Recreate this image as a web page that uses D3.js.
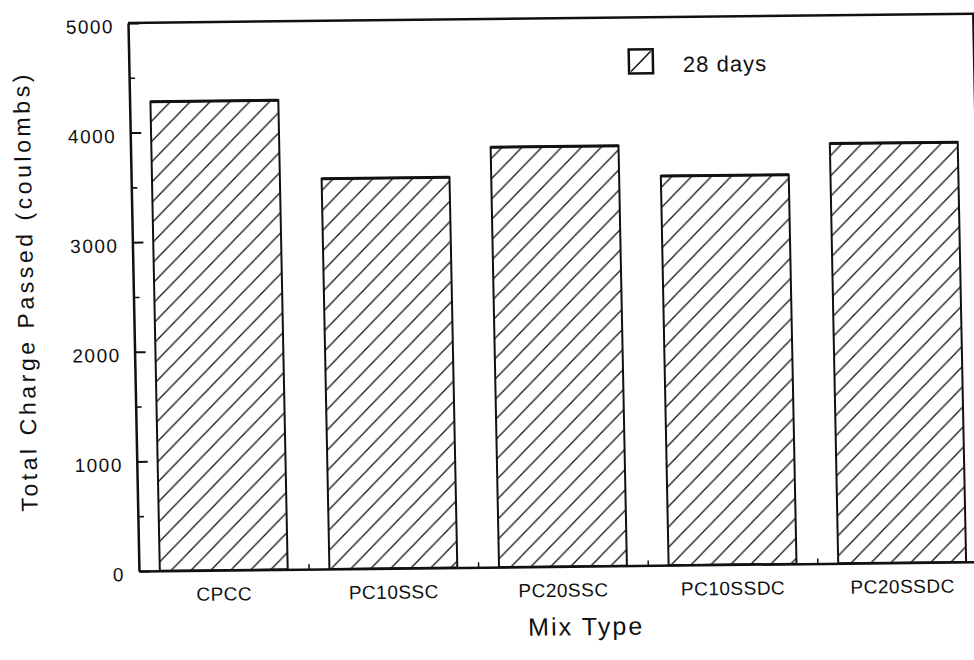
<!DOCTYPE html>
<html>
<head>
<meta charset="utf-8">
<script src="https://cdn.jsdelivr.net/npm/d3@7"></script>
<style>
  body { margin: 0; background: #fff; }
  text { font-family: "Liberation Sans", Arial, Helvetica, sans-serif; fill: #111; }
</style>
</head>
<body>
<svg id="chart" width="974" height="660"></svg>
<script>
// Total charge passed at 28 days, per mix type
const categories = ["CPCC", "PC10SSC", "PC20SSC", "PC10SSDC", "PC20SSDC"];
const charge28 = [4280, 3560, 3830, 3550, 3830];
const yTicks = [0, 1000, 2000, 3000, 4000, 5000];
const yMinorTicks = [500, 1500, 2500, 3500, 4500];
const seriesName = "28 days";
const yTitle = "Total Charge Passed (coulombs)";
const xTitle = "Mix Type";

const W = 845, H = 548;
const ink = "#111";

const svg = d3.select("#chart");

// hatch fill used by the bars and the legend swatch
const defs = svg.append("defs");
const pat = defs.append("pattern")
  .attr("id", "hatch")
  .attr("patternUnits", "userSpaceOnUse")
  .attr("width", 20).attr("height", 20);
pat.append("path")
  .attr("d", "M-5,5 L5,-5 M0,20 L20,0 M15,25 L25,15")
  .attr("stroke", ink).attr("stroke-width", 1.3);

// plot frame (slightly skewed, as on the printed sheet)
const g = svg.append("g")
  .attr("transform", "matrix(1,-0.011,0.02,1,128,23)");

const x = d3.scaleBand()
  .domain(categories)
  .range([0, 848])
  .paddingInner(0.246)
  .paddingOuter(0.123);

const xEdge = d3.scaleLinear().domain([0, categories.length]).range([0, 848]);

const y = d3.scaleLinear().domain([0, 5000]).range([H, 0]);

// bars
g.selectAll("rect.bar")
  .data(categories)
  .join("rect")
  .attr("class", "bar")
  .attr("x", d => x(d))
  .attr("y", (d, i) => y(charge28[i]))
  .attr("width", x.bandwidth())
  .attr("height", (d, i) => y(0) - y(charge28[i]))
  .attr("fill", "url(#hatch)")
  .attr("stroke", ink)
  .attr("stroke-width", 2);

// heavier top edge on each bar
g.selectAll("line.bartop")
  .data(categories)
  .join("line")
  .attr("class", "bartop")
  .attr("x1", d => x(d))
  .attr("x2", d => x(d) + x.bandwidth())
  .attr("y1", (d, i) => y(charge28[i]))
  .attr("y2", (d, i) => y(charge28[i]))
  .attr("stroke", ink)
  .attr("stroke-width", 3);

// frame: top and right
g.append("line").attr("x1", 0).attr("x2", W + 5).attr("y1", 0).attr("y2", 0)
  .attr("stroke", ink).attr("stroke-width", 2.5);
g.append("line").attr("x1", W).attr("x2", W).attr("y1", 0).attr("y2", H)
  .attr("stroke", ink).attr("stroke-width", 2);

// y axis with inward ticks
const yAxis = g.append("g")
  .call(d3.axisLeft(y).tickValues(yTicks).tickFormat(d3.format("d"))
    .tickSize(-11).tickSizeOuter(0).tickPadding(14));
yAxis.select(".domain").attr("stroke", ink).attr("stroke-width", 2.5);
yAxis.selectAll(".tick line").attr("stroke", ink).attr("stroke-width", 2);
yAxis.selectAll(".tick text")
  .attr("dy", "0.5em")
  .attr("fill", ink)
  .style("font-size", "19px")
  .style("letter-spacing", "1.5px");

const yMinor = g.append("g")
  .call(d3.axisLeft(y).tickValues(yMinorTicks).tickSize(-6).tickFormat(""));
yMinor.select(".domain").remove();
yMinor.selectAll(".tick line").attr("stroke", ink).attr("stroke-width", 1.6);

// x axis: labels under each bar, small ticks between bars
const xAxis = g.append("g")
  .attr("transform", `translate(0,${H})`)
  .call(d3.axisBottom(x).tickSize(0).tickSizeOuter(0).tickPadding(17));
xAxis.select(".domain").attr("stroke", ink).attr("stroke-width", 2.5);
xAxis.selectAll(".tick text")
  .attr("fill", ink)
  .style("font-size", "19px")
  .style("letter-spacing", "0.5px");

const xEdges = g.append("g")
  .attr("transform", `translate(0,${H})`)
  .call(d3.axisBottom(xEdge).tickValues([1, 2, 3, 4]).tickSize(-5).tickFormat(""));
xEdges.select(".domain").remove();
xEdges.selectAll(".tick line").attr("stroke", ink).attr("stroke-width", 1.5);

// axis titles
g.append("text")
  .attr("transform", `translate(-100,269) rotate(-90)`)
  .attr("text-anchor", "middle")
  .attr("textLength", 437)
  .attr("lengthAdjust", "spacing")
  .style("font-size", "23px")
  .text(yTitle);

g.append("text")
  .attr("x", 445).attr("y", H + 69)
  .attr("text-anchor", "middle")
  .attr("textLength", 114)
  .attr("lengthAdjust", "spacing")
  .style("font-size", "25px")
  .text(xTitle);

// legend
const leg = g.append("g").attr("transform", "translate(500,32)");
leg.append("rect")
  .attr("width", 24).attr("height", 24)
  .attr("fill", "#fff")
  .attr("stroke", ink).attr("stroke-width", 2.5);
leg.append("line")
  .attr("x1", 2).attr("y1", 22).attr("x2", 22).attr("y2", 2)
  .attr("stroke", ink).attr("stroke-width", 1.5);
leg.append("text")
  .attr("x", 54).attr("y", 23)
  .style("font-size", "22px")
  .style("letter-spacing", "1px")
  .text(seriesName);
</script>
</body>
</html>
